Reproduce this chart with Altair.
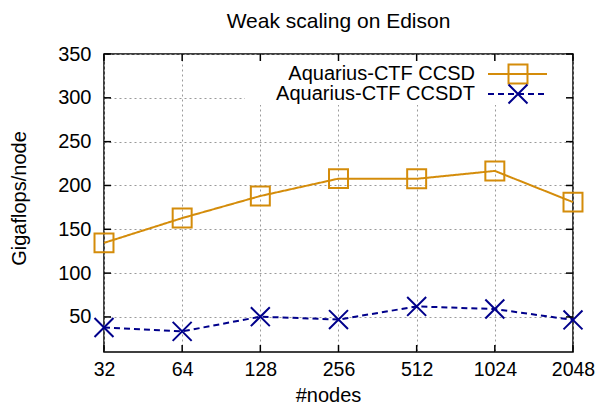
import altair as alt
import pandas as pd

# ---- data ----
nodes = [32, 64, 128, 256, 512, 1024, 2048]
ccsd = [134.5, 162.8, 188.0, 207.8, 207.6, 216.6, 181.0]
ccsdt = [38.0, 33.5, 50.3, 47.0, 62.0, 59.0, 46.6]
series = ["Aquarius-CTF CCSD", "Aquarius-CTF CCSDT"]
y_ticks = [50, 100, 150, 200, 250, 300, 350]

colors = ["#d48c0a", "#00008b"]
FONT = "Liberation Sans"
W, H = 469, 298

df = pd.concat([
    pd.DataFrame({"nodes": nodes, "value": ccsd, "series": series[0]}),
    pd.DataFrame({"nodes": nodes, "value": ccsdt, "series": series[1]}),
])

xscale = alt.Scale(type="log", base=2, domain=[32, 2048], nice=False)
yscale = alt.Scale(domain=[10, 350], nice=False, zero=False)

axis_font = dict(labelFont=FONT, labelColor="black",
                 titleFont=FONT, titleFontSize=20, titleFontWeight="normal",
                 titleColor="black", labelFlush=False, labelOverlap=False,
                 labelBound=False)
xaxis = alt.Axis(values=nodes, format="d", title="#nodes", grid=True,
                 gridDash=[2, 3], gridColor="#9a9a9a", gridWidth=1,
                 domain=False, ticks=False, labelPadding=8, titlePadding=7,
                 labelFontSize=19.5, titleX=224, **axis_font)
yaxis = alt.Axis(values=y_ticks, title="Gigaflops/node", grid=True,
                 gridDash=[2, 3], gridColor="#9a9a9a", gridWidth=1,
                 domain=False, ticks=False, labelPadding=13, titlePadding=28,
                 labelFontSize=20, titleY=144, **axis_font)

X = alt.X("nodes:Q", scale=xscale, axis=xaxis)
Y = alt.Y("value:Q", scale=yscale, axis=yaxis)

color = alt.Color("series:N", scale=alt.Scale(domain=series, range=colors), legend=None)
shape = alt.Shape("series:N", scale=alt.Scale(domain=series,
                  range=["square", "M-1,-1L1,1M1,-1L-1,1"]), legend=None)
dash = alt.StrokeDash("series:N", scale=alt.Scale(domain=series,
                      range=[[1, 0], [6, 4]]), legend=None)

base = alt.Chart(df)
lines = base.mark_line(strokeWidth=2).encode(x=X, y=Y, color=color, strokeDash=dash)
points = base.mark_point(size=360, strokeWidth=2, filled=False, opacity=1).encode(
    x=X, y=Y, color=color, shape=shape)

# legend box (opaque, like gnuplot key)
leg_df = pd.DataFrame({"series": series})
legbox = alt.Chart(leg_df).mark_rect(color="white").encode(
    x=alt.value(W - 328), x2=alt.value(W - 1), y=alt.value(1), y2=alt.value(51))

legend_layers = []
for i, s in enumerate(series):
    ypos = 20 + 20 * i
    d = alt.Chart(leg_df).transform_filter(alt.datum.series == s)
    legend_layers.append(d.mark_text(align="right", baseline="middle", font=FONT,
                                     fontSize=20, color="black").encode(
        text="series:N", x=alt.value(W - 98), y=alt.value(ypos)))
    legend_layers.append(d.mark_rule(strokeWidth=2, color=colors[i],
                                     strokeDash=[1, 0] if i == 0 else [6, 4]).encode(
        x=alt.value(W - 85), x2=alt.value(W - 26), y=alt.value(ypos)))
    legend_layers.append(d.mark_point(size=360, strokeWidth=2, filled=False, opacity=1,
                                      color=colors[i],
                                      shape="square" if i == 0 else "M-1,-1L1,1M1,-1L-1,1").encode(
        x=alt.value(W - 55), y=alt.value(ypos)))

# inward ticks on all four sides
xt = alt.Chart(pd.DataFrame({"nodes": nodes}))
yt = alt.Chart(pd.DataFrame({"value": y_ticks}))
tick_style = dict(color="black", strokeWidth=1.5)
ticks = [
    xt.mark_rule(**tick_style).encode(x=X, y=alt.value(H), y2=alt.value(H - 7)),
    xt.mark_rule(**tick_style).encode(x=X, y=alt.value(0), y2=alt.value(7)),
    yt.mark_rule(**tick_style).encode(y=Y, x=alt.value(0), x2=alt.value(7)),
    yt.mark_rule(**tick_style).encode(y=Y, x=alt.value(W), x2=alt.value(W - 7)),
]

chart = alt.layer(lines, points, legbox, *ticks, *legend_layers).properties(
    width=W, height=H,
    title=alt.Title("Weak scaling on Edison", fontSize=21, font=FONT,
                    fontWeight="normal", anchor="middle", offset=12, color="black"),
    autosize=alt.AutoSizeParams(type="none"),
    padding={"left": 96, "top": 46, "right": 22, "bottom": 54},
    background="white",
).configure_view(stroke="black", strokeWidth=1.5)

chart.save("out.html", embed_options={"renderer": "svg", "actions": False})
